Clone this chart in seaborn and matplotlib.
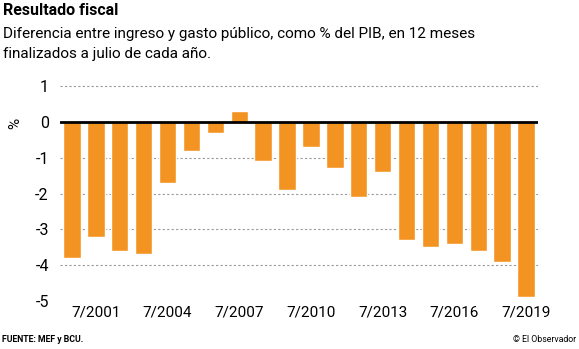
import matplotlib
matplotlib.use("Agg")
import matplotlib.pyplot as plt
import seaborn as sns
import pandas as pd

# Fiscal result, 12 months to July of each year (% of GDP)
years = [str(y) for y in range(2000, 2020)]
values = [-3.8, -3.2, -3.6, -3.7, -1.7, -0.8, -0.3, 0.3, -1.1, -1.9,
          -0.7, -1.3, -2.1, -1.4, -3.3, -3.5, -3.4, -3.6, -3.9, -4.9]
tick_years = ["2001", "2004", "2007", "2010", "2013", "2016", "2019"]
y_ticks = [1, 0, -1, -2, -3, -4, -5]

sns.set_theme(style="white")
plt.rcParams["font.family"] = ["Roboto", "DejaVu Sans"]
plt.rcParams["text.color"] = "black"
plt.rcParams["xtick.color"] = "black"
plt.rcParams["ytick.color"] = "black"

df = pd.DataFrame({"year": years, "value": values})

fig = plt.figure(figsize=(5.79, 3.49), dpi=100)
ax = fig.add_axes([0.1036, 0.1375, 0.8256, 0.6212])

sns.barplot(data=df, x="year", y="value", order=years, color="#F39422",
            saturation=1, width=0.73, ax=ax)

ax.set_xlim(-0.5, len(years) - 0.5)
ax.set_ylim(-5, 1.05)

# dotted reference lines and solid zero line
for yv in y_ticks:
    if yv == 0:
        ax.axhline(0, color="black", lw=2.0, zorder=3)
    elif yv > -5:
        ax.axhline(yv, color="#9a9a9a", lw=0.8, ls=(0, (2, 2)), zorder=0)

for s in ax.spines.values():
    s.set_visible(False)

ax.set_yticks(y_ticks)
ax.set_yticklabels([str(v) for v in y_ticks], fontsize=11.5)
tick_pos = [years.index(t) for t in tick_years]
ax.set_xticks(tick_pos)
ax.set_xticklabels(["7/" + t for t in tick_years], fontsize=11)
ax.tick_params(axis="y", length=0, pad=8)
ax.tick_params(axis="x", length=0, pad=3)
ax.set_xlabel("")
ax.set_ylabel("")

fig.text(0.026, 1 - 123 / 349, "%", rotation=90, fontsize=11,
         ha="center", va="center")

fig.text(0.005, 1 - 3 / 349, "Resultado fiscal", fontsize=11.5,
         fontweight="bold", ha="left", va="top")
fig.text(0.005, 1 - 27 / 349,
         "Diferencia entre ingreso y gasto público, como % del PIB, en 12 meses\n"
         "finalizados a julio de cada año.",
         fontsize=11, ha="left", va="top", linespacing=1.5)

fig.text(0.003, 1 - 340 / 349, "FUENTE: MEF y BCU.", fontsize=6.3,
         fontweight="bold", ha="left", va="center")
fig.text(0.995, 1 - 340 / 349, "© El Observador", fontsize=6.3,
         ha="right", va="center")

fig.savefig("out.png", dpi=100)
